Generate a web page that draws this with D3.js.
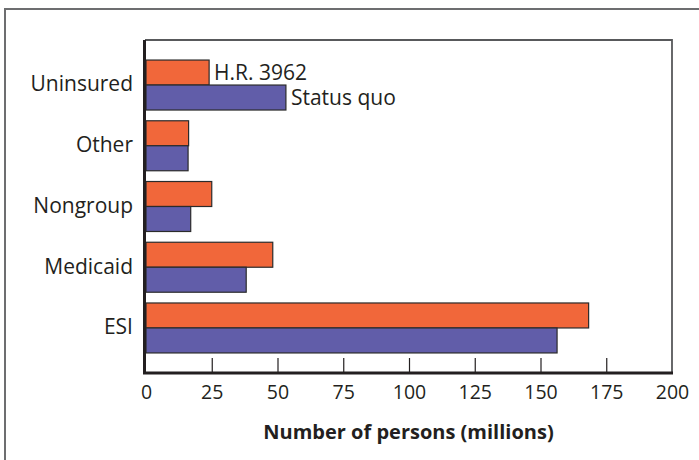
<!DOCTYPE html>
<html>
<head>
<meta charset="utf-8">
<script src="https://cdn.jsdelivr.net/npm/d3@7"></script>
<style>
  html, body { margin: 0; padding: 0; background: #fff; }
  svg { display: block; }
  text { font-family: "Open Sans", "Noto Sans", sans-serif; fill: #231f20; }
</style>
</head>
<body>
<svg id="chart" width="699" height="460"></svg>
<script>
// Coverage source by scenario (millions of persons)
const categories = ["Uninsured", "Other", "Nongroup", "Medicaid", "ESI"];
const seriesNames = ["H.R. 3962", "Status quo"];
const hr3962 = [24, 16.2, 25, 48.2, 168.3];
const statusQuo = [53.2, 16, 17, 38.1, 156.3];
const xTicks = [0, 25, 50, 75, 100, 125, 150, 175, 200];
const xTitle = "Number of persons (millions)";

const seriesColors = ["#f1673a", "#615da9"];

const svg = d3.select("#chart");
const plotLeft = 145, plotRight = 672, plotTop = 40, plotBottom = 373;

// outer frame
svg.append("rect")
  .attr("x", 5).attr("y", 9).attr("width", 900).attr("height", 900)
  .attr("fill", "none").attr("stroke", "#6d6e70").attr("stroke-width", 2);

const x = d3.scaleLinear().domain([0, 200]).range([plotLeft + 1, plotRight]);
const y = d3.scaleBand().domain(categories).range([plotTop, plotBottom])
  .paddingInner(0.177).paddingOuter(0.33);
const ySub = d3.scaleBand().domain(seriesNames).range([0, y.bandwidth()]);

const rows = categories.map((c, i) => ({ cat: c, values: [hr3962[i], statusQuo[i]] }));

// plot frame: thin grey top/right
svg.append("path")
  .attr("d", `M${plotLeft},${plotTop} H${plotRight} V${plotBottom}`)
  .attr("fill", "none").attr("stroke", "#58595b").attr("stroke-width", 1.8);

// bars
const groups = svg.selectAll("g.cat").data(rows).join("g")
  .attr("class", "cat")
  .attr("transform", d => `translate(0,${y(d.cat)})`);

groups.selectAll("rect").data(d => d.values.map((v, j) => ({ v, s: seriesNames[j], j })))
  .join("rect")
  .attr("x", x(0))
  .attr("y", d => ySub(d.s))
  .attr("width", d => x(d.v) - x(0))
  .attr("height", ySub.bandwidth())
  .attr("fill", d => seriesColors[d.j])
  .attr("stroke", "#2b2b2b").attr("stroke-width", 1.2);

// series labels beside the Uninsured bars
const first = rows[0];
svg.selectAll("text.series").data(seriesNames).join("text")
  .attr("class", "series")
  .attr("x", (s, j) => x(first.values[j]) + 5)
  .attr("y", s => y(first.cat) + ySub(s) + ySub.bandwidth() / 2)
  .attr("dy", "0.36em")
  .attr("font-size", 21)
  .text(s => s);

// category labels
svg.selectAll("text.catlabel").data(categories).join("text")
  .attr("class", "catlabel")
  .attr("x", plotLeft - 12)
  .attr("y", c => y(c) + y.bandwidth() / 2)
  .attr("dy", "0.3em")
  .attr("text-anchor", "end")
  .attr("font-size", 21)
  .text(c => c);

// x axis: inward ticks, labels below
const xAxis = d3.axisBottom(x).tickValues(xTicks).tickSize(-15).tickPadding(12).tickFormat(d3.format("d"));
const gx = svg.append("g").attr("transform", `translate(0,${plotBottom})`).call(xAxis);
gx.select(".domain").remove();
gx.selectAll(".tick line").attr("stroke", "#231f20").attr("stroke-width", 1.2)
  .filter(d => d === 0 || d === 200).remove();
gx.selectAll(".tick text").attr("font-size", 19.5).attr("font-family", "'Open Sans', sans-serif").attr("fill", "#231f20");

// heavy left and bottom axis lines
svg.append("path")
  .attr("d", `M${plotLeft - 0.5},${plotTop} V${plotBottom} H${plotRight + 1}`)
  .attr("fill", "none").attr("stroke", "#231f20").attr("stroke-width", 3);

svg.append("text")
  .attr("x", (plotLeft + plotRight) / 2)
  .attr("y", 439)
  .attr("text-anchor", "middle")
  .attr("font-size", 20)
  .attr("font-weight", "bold")
  .text(xTitle);
</script>
</body>
</html>
